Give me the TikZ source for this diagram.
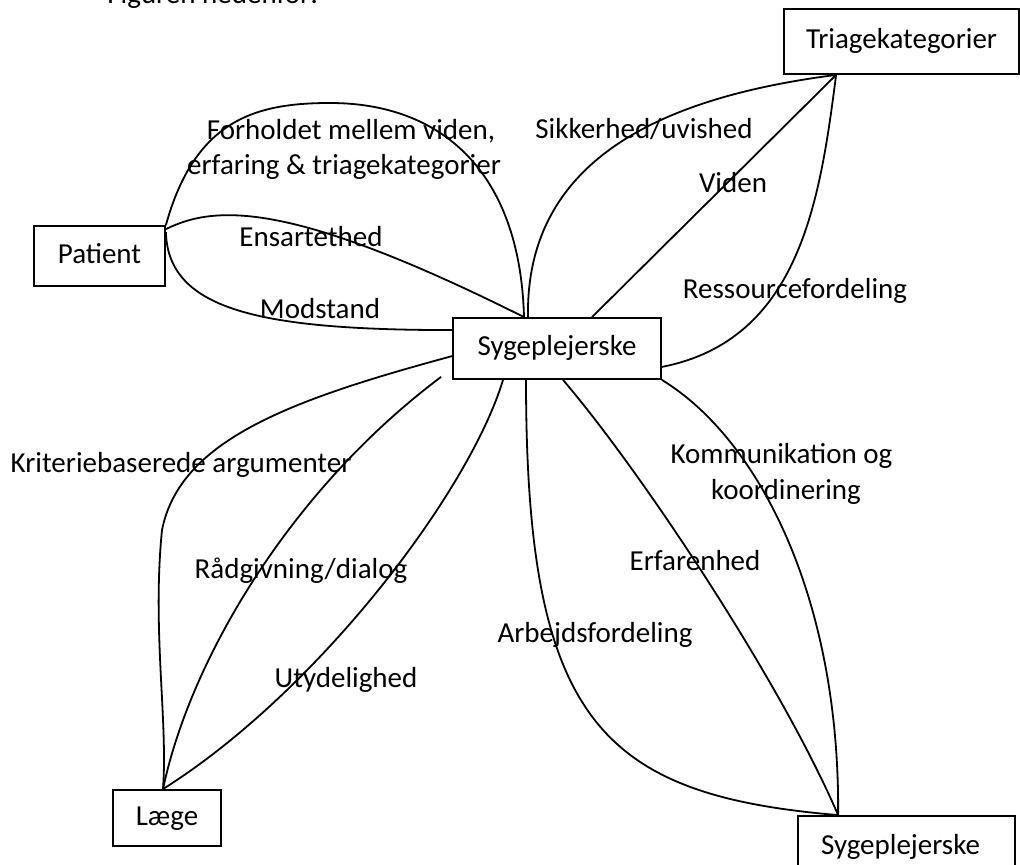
\documentclass[tikz,border=0pt]{standalone}
\usepackage{fontspec}
\setmainfont{Carlito}
\usetikzlibrary{calc}
\begin{document}
\begin{tikzpicture}[x=0.5pt,y=-0.5pt,
  every node/.style={font=\fontsize{14.5}{17.5}\selectfont, inner sep=0pt},
  box/.style={draw, line width=0.9pt, text height=0.85em, text depth=0.13em},
  lbl/.style={anchor=base},
  edge/.style={line width=0.9pt}]
\useasboundingbox (0,0) rectangle (1020,865);
% top caption (cut off)
\node[anchor=base west] (cap) at (107,3.5) {Figuren nedenfor:};
% boxes
\node[box, minimum width=65.5pt, minimum height=30pt] (P) at (99.5,256) {Patient};
\node[box, minimum width=104pt, minimum height=30.5pt] (S) at (557,348.5) {Sygeplejerske};
\node[box, minimum width=117.5pt, minimum height=32.5pt] (T) at (901.5,41.5) {Triagekategorier};
\node[box, minimum width=54pt, minimum height=28pt] (L) at (167,818) {Læge};
\node[box, minimum width=108.5pt, minimum height=31pt] (S2) at (906.5,847) {\kern-6pt Sygeplejerske};
% anchor points
\coordinate (Ta) at ($(T.south west)+(53,0)$);
\coordinate (La) at ($(L.north)+(-4,0)$);
\coordinate (S2a) at ($(S2.north west)+(41,0)$);
\coordinate (Rs) at ($(S.south west)+(-11,-3)$);
% Patient connectors
\draw[edge] (P.north east) .. controls (195,120) and (255,103) .. (330,103)
  .. controls (440,103) and (520,170) .. ($(S.north)+(-33,0)$);
\draw[edge] ($(P.north east)+(0,4)$) .. controls (215,205) and (290,200) .. ($(S.north)+(-33,0)$);
\draw[edge] ($(P.north east)+(0,7)$) .. controls (168,310) and (260,330) .. ($(S.north west)+(0,13)$);
% Triage connectors
\draw[edge] (Ta) .. controls (680,95) and (525,150) .. ($(S.north)+(-29,0)$);
\draw[edge] (Ta) -- ($(S.north)+(35,0)$);
\draw[edge] (Ta) .. controls (820,200) and (800,340) .. ($(S.south east)+(0,-13)$);
% Laege connectors
\draw[edge] ($(S.north west)+(0,39)$) .. controls (290,400) and (180,440) .. (162,530)
  .. controls (152,630) and (168,720) .. (La);
\draw[edge] (Rs) .. controls (290,490) and (190,660) .. (La);
\draw[edge] ($(S.south)+(-54,0)$) .. controls (470,490) and (320,690) .. (La);
% lower Sygeplejerske connectors
\draw[edge] ($(S.south)+(-31,0)$) .. controls (526,720) and (600,795) .. (S2a);
\draw[edge] ($(S.south)+(6,0)$) .. controls (640,470) and (780,680) .. (S2a);
\draw[edge] (S.south east) .. controls (760,440) and (840,600) .. (S2a);
% labels
\node[lbl] (l1a) at (351,140) {Forholdet mellem viden,};
\node[lbl] (l1b) at (344,175) {erfaring \& triagekategorier};
\node[lbl] (l2) at (311,247) {Ensartethed};
\node[lbl] (l3) at (320,319) {Modstand};
\node[lbl] (l4) at (644,139) {Sikkerhed/uvished};
\node[lbl] (l5) at (733,193) {Viden};
\node[lbl] (l6) at (795,299) {Ressourcefordeling};
\node[lbl] (l7) at (181,472) {Kriteriebaserede argumenter};
\node[lbl] (l8) at (301,578) {Rådgivning/dialog};
\node[lbl] (l9) at (346,687) {Utydelighed};
\node[lbl] (l10) at (595,642) {Arbejdsfordeling};
\node[lbl] (l11) at (695,570) {Erfarenhed};
\node[lbl] (l12a) at (781.5,463) {Kommunikation og};
\node[lbl] (l12b) at (786,499) {koordinering};
\end{tikzpicture}
\end{document}
